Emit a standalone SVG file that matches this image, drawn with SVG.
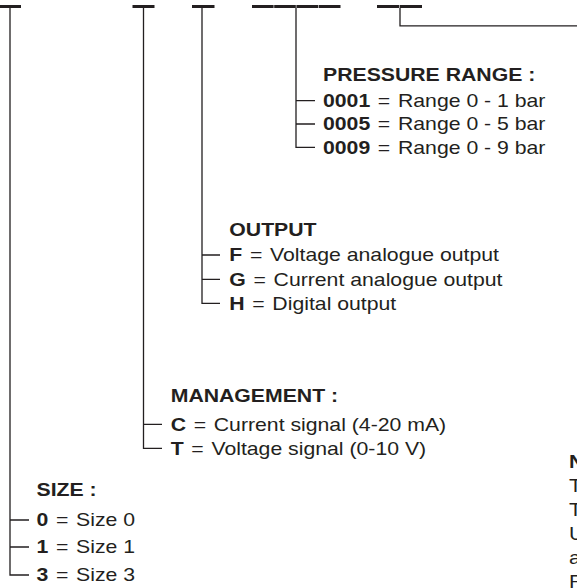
<svg xmlns="http://www.w3.org/2000/svg" width="577" height="588" viewBox="0 0 577 588">
<style>
.ln{stroke:#231f20;stroke-width:1.3;fill:none}
.bar{fill:#231f20}
text{font-family:"Liberation Sans",Arial,sans-serif;font-size:18px;fill:#231f20}
.b{font-weight:bold}
</style>
<rect width="577" height="588" fill="#fff"/>
<g id="code-bars">
<rect class="bar" x="-1" y="5" width="22" height="3"/>
<rect class="bar" x="132.5" y="5" width="22" height="3"/>
<rect class="bar" x="192" y="5" width="22.5" height="3"/>
<rect class="bar" x="252" y="5" width="21.6" height="3"/>
<rect class="bar" x="274.2" y="5" width="21.6" height="3"/>
<rect class="bar" x="296.4" y="5" width="21.6" height="3"/>
<rect class="bar" x="318.6" y="5" width="21.9" height="3"/>
<rect class="bar" x="377" y="5" width="22" height="3"/>
<rect class="bar" x="399.6" y="5" width="22.4" height="3"/>
</g>
<g id="connectors">
<path class="ln" d="M10,8V575H29M10,520H29M10,547H29"/>
<path class="ln" d="M143.5,8V448.3H162M143.5,424.3H162"/>
<path class="ln" d="M202,8V303.3H220M202,255H220M202,279.3H220"/>
<path class="ln" d="M296,8V147.3H315M296,100.7H315M296,124H315"/>
<path class="ln" d="M400,8V25.8H577"/>
</g>
<g id="pressure" transform="translate(323,0) scale(1.18,1)">
<text class="b" x="0" y="81">PRESSURE RANGE :</text>
<text x="0" y="107"><tspan class="b">0001</tspan><tspan dx="1.5"> =</tspan><tspan dx="1.5"> Range 0 - 1 bar</tspan></text>
<text x="0" y="130.4"><tspan class="b">0005</tspan><tspan dx="1.5"> =</tspan><tspan dx="1.5"> Range 0 - 5 bar</tspan></text>
<text x="0" y="153.7"><tspan class="b">0009</tspan><tspan dx="1.5"> =</tspan><tspan dx="1.5"> Range 0 - 9 bar</tspan></text>
</g>
<g id="output" transform="translate(229.3,0) scale(1.18,1)">
<text class="b" x="0" y="235.7">OUTPUT</text>
<text x="0" y="261.4"><tspan class="b">F</tspan><tspan dx="1.5"> =</tspan><tspan dx="1.5"> Voltage analogue output</tspan></text>
<text x="0" y="285.7"><tspan class="b">G</tspan><tspan dx="1.5"> =</tspan><tspan dx="1.5"> Current analogue output</tspan></text>
<text x="0" y="309.7"><tspan class="b">H</tspan><tspan dx="1.5"> =</tspan><tspan dx="1.5"> Digital output</tspan></text>
</g>
<g id="management" transform="translate(170.7,0) scale(1.18,1)">
<text class="b" x="0" y="402.4">MANAGEMENT :</text>
<text x="0" y="430.7"><tspan class="b">C</tspan><tspan dx="1.5"> =</tspan><tspan dx="1.5"> Current signal (4-20 mA)</tspan></text>
<text x="0" y="454.7"><tspan class="b">T</tspan><tspan dx="1.5"> =</tspan><tspan dx="1.5"> Voltage signal (0-10 V)</tspan></text>
</g>
<g id="size" transform="translate(36.5,0) scale(1.18,1)">
<text class="b" x="0" y="496.4">SIZE :</text>
<text x="0" y="526.4"><tspan class="b">0</tspan><tspan dx="1.5"> =</tspan><tspan dx="1.5"> Size 0</tspan></text>
<text x="0" y="553.4"><tspan class="b">1</tspan><tspan dx="1.5"> =</tspan><tspan dx="1.5"> Size 1</tspan></text>
<text x="0" y="581.4"><tspan class="b">3</tspan><tspan dx="1.5"> =</tspan><tspan dx="1.5"> Size 3</tspan></text>
</g>
<g id="note" transform="translate(569,0) scale(1.18,1)">
<text class="b" x="0" y="468">N</text>
<text x="0" y="492">T</text>
<text x="0" y="516">T</text>
<text x="0" y="540">U</text>
<text x="0" y="564">a</text>
<text x="0" y="588">F</text>
</g>
</svg>
